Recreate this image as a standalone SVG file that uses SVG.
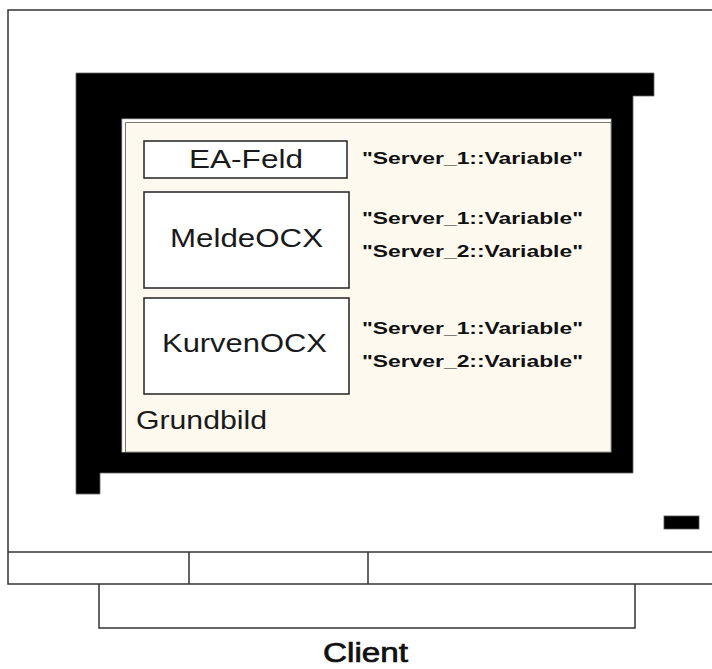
<svg xmlns="http://www.w3.org/2000/svg" width="712" height="669" viewBox="0 0 712 669">
<style>
.ln{fill:none;stroke:#333;stroke-width:1.5}
.box{fill:#fff;stroke:#222;stroke-width:1.5}
.lbl{font-family:"Liberation Sans",Arial,sans-serif;font-size:26px;fill:#1a1a1a}
.var{font-family:"Liberation Sans",Arial,sans-serif;font-size:17px;font-weight:bold;fill:#111}
.cl{font-family:"Liberation Sans",Arial,sans-serif;font-size:27px;fill:#111;stroke:#111;stroke-width:0.7}
</style>
<g id="monitor">
<path class="ln" d="M712,10 H8 V584 H712 M8,552 H712 M189,552 V584 M368,552 V584"/>
<path class="ln" d="M99,584 V628 H635 V584"/>
<rect x="664" y="516" width="35" height="13" fill="#000" stroke="#555" stroke-width="0.8"/>
<polygon points="76,73 654,73 654,96 633,96 633,473 100,473 100,494 76,494" fill="#000" stroke="#666" stroke-width="0.8"/>
</g>
<g id="grundbild">
<rect x="122" y="119" width="489" height="333" fill="#FDF9EF" stroke="#999" stroke-width="1"/>
<path d="M123.5,452 V120.5 H611" fill="none" stroke="#fff" stroke-width="2"/>
<path d="M125.5,452 V122.5 H611" fill="none" stroke="#777" stroke-width="1"/>
<text class="lbl" x="136" y="429" textLength="131" lengthAdjust="spacingAndGlyphs">Grundbild</text>
</g>
<g id="ea-feld">
<rect class="box" x="144" y="141" width="203" height="37"/>
<text class="lbl" x="189" y="168" textLength="114" lengthAdjust="spacingAndGlyphs">EA-Feld</text>
<text class="var" x="362" y="164" textLength="221" lengthAdjust="spacingAndGlyphs">"Server_1::Variable"</text>
</g>
<g id="meldeocx">
<rect class="box" x="144" y="192" width="205" height="96"/>
<text class="lbl" x="170" y="247" textLength="153" lengthAdjust="spacingAndGlyphs">MeldeOCX</text>
<text class="var" x="362" y="224" textLength="221" lengthAdjust="spacingAndGlyphs">"Server_1::Variable"</text>
<text class="var" x="362" y="257" textLength="221" lengthAdjust="spacingAndGlyphs">"Server_2::Variable"</text>
</g>
<g id="kurvenocx">
<rect class="box" x="144" y="298" width="205" height="96"/>
<text class="lbl" x="162" y="352" textLength="165" lengthAdjust="spacingAndGlyphs">KurvenOCX</text>
<text class="var" x="362" y="334" textLength="221" lengthAdjust="spacingAndGlyphs">"Server_1::Variable"</text>
<text class="var" x="362" y="367" textLength="221" lengthAdjust="spacingAndGlyphs">"Server_2::Variable"</text>
</g>
<g id="client">
<text class="cl" x="323" y="662" textLength="85" lengthAdjust="spacingAndGlyphs">Client</text>
</g>
<g id="connectors"/>
</svg>
